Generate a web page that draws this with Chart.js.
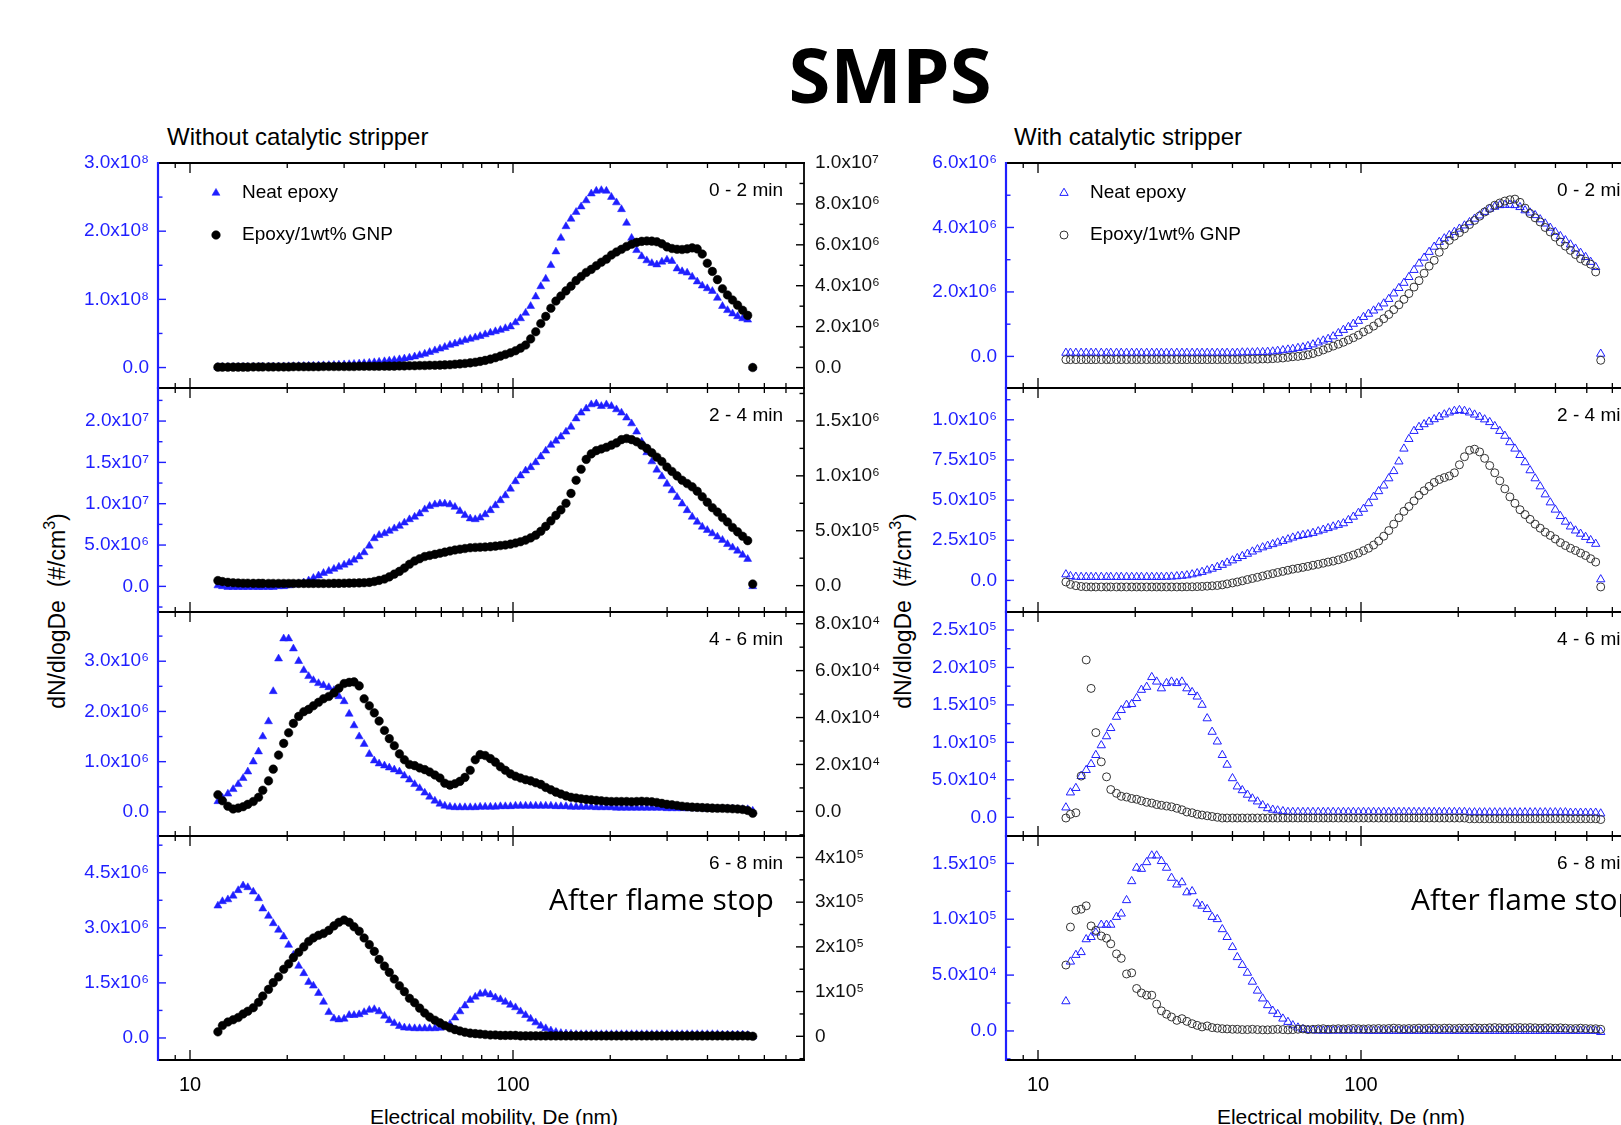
<!DOCTYPE html>
<html><head><meta charset="utf-8">
<script src="https://cdn.jsdelivr.net/npm/chart.js@4.4.1/dist/chart.umd.min.js"></script>
<style>
html,body{margin:0;padding:0;overflow:hidden;background:#fff;width:1621px;height:1125px;position:relative;}
.t{position:absolute;white-space:nowrap;font-family:"Liberation Sans",Arial,sans-serif;color:#000;}
.rot{transform:rotate(-90deg);text-align:center;}
sup{font-size:70%;line-height:0;position:relative;top:-0.1em;}
</style></head><body>
<div class="t" style="left:690px;width:400px;top:36px;text-align:center;font:bold 76px 'Open Sans',sans-serif;line-height:76px;">SMPS</div>
<div class="t" style="left:167px;top:124px;font-size:24px;line-height:26px;">Without catalytic stripper</div>
<div class="t" style="left:1014px;top:124px;font-size:24px;line-height:26px;">With catalytic stripper</div>
<div class="t rot" style="left:-103px;top:597px;width:320px;font-size:23px;line-height:28px;">dN/dlogDe&nbsp;&nbsp;(#/cm<sup>3</sup>)</div>
<div class="t rot" style="left:743px;top:597px;width:320px;font-size:23px;line-height:28px;">dN/dlogDe&nbsp;&nbsp;(#/cm<sup>3</sup>)</div>
<div class="t" style="left:294px;width:400px;top:1105px;text-align:center;font-size:21px;line-height:24px;">Electrical mobility, De (nm)</div>
<div class="t" style="left:1141px;width:400px;top:1105px;text-align:center;font-size:21px;line-height:24px;">Electrical mobility, De (nm)</div>
<script>
// ---------------- DATA ----------------
// SMPS channel mid-point diameters (nm)
const diameterNm = [12.2,12.6,13.1,13.6,14.1,14.6,15.1,15.7,16.3,16.8,
17.5,18.1,18.8,19.5,20.2,20.9,21.7,22.5,23.3,24.1,
25.0,25.9,26.9,27.9,28.9,30.0,31.1,32.2,33.4,34.6,
35.9,37.2,38.5,40.0,41.4,42.9,44.5,46.1,47.8,49.6,
51.4,53.3,55.2,57.3,59.4,61.5,63.8,66.1,68.5,71.0,
73.7,76.4,79.1,82.0,85.1,88.2,91.4,94.7,98.2,101.8,
105.5,109.4,113.4,117.6,121.9,126.3,131.0,135.8,140.7,145.9,
151.2,156.8,162.5,168.5,174.7,181.1,187.7,194.6,201.7,209.1,
216.7,224.7,232.9,241.4,250.3,259.5,269.0,278.8,289.0,299.6,
310.6,322.0,333.8,346.0,358.7,371.8,385.4,399.5,414.2,429.4,
445.1,461.4,478.3,495.8,514.0,532.8,552.3];

// Without catalytic stripper (values in the unit noted)
const woNeat_0_2 = [0.5,0.5,0.6,0.6,0.7,0.8,0.8,0.9,1.0,1.1,
1.2,1.3,1.4,1.5,1.7,1.8,2.0,2.2,2.4,2.6,
2.9,3.1,3.4,3.7,4.0,4.4,4.8,5.2,5.7,6.2,
6.8,7.5,8.2,9.0,9.9,10.8,11.9,13.0,14.4,16.0,
18,20,22.5,25,27.5,30,33,35,37.5,40,
42,44,46,48.5,51,53,55,57.5,60,66,
72,80,90,104,119,130,150,170,190,207,
218,228,236,245,255,259,260,259,250,242,
232,212,190,172,163,157,153,151,155,158,
156,145,141,139,133,126,120,116,112,102,
90,84,79,75,72,70,0]; // x1e6
const woGnp_0_2 = [0.02,0.02,0.02,0.02,0.02,0.02,0.02,0.03,0.03,0.03,
0.03,0.03,0.03,0.03,0.03,0.04,0.04,0.04,0.04,0.04,
0.04,0.05,0.05,0.05,0.05,0.05,0.05,0.05,0.06,0.06,
0.06,0.06,0.06,0.07,0.07,0.07,0.08,0.08,0.09,0.09,
0.1,0.1,0.11,0.11,0.12,0.13,0.14,0.16,0.18,0.2,
0.23,0.26,0.3,0.35,0.41,0.48,0.56,0.64,0.72,0.82,
0.95,1.1,1.4,1.75,2.15,2.5,2.9,3.25,3.5,3.75,
3.98,4.25,4.45,4.65,4.8,4.98,5.15,5.3,5.5,5.65,
5.78,5.92,6.03,6.12,6.17,6.19,6.18,6.15,6.05,5.9,
5.82,5.78,5.77,5.8,5.85,5.8,5.55,5.1,4.7,4.3,
3.85,3.55,3.3,3.05,2.8,2.55,0]; // x1e6
const woNeat_2_4 = [0.1,0,-0.1,-0.1,-0.1,-0.1,-0.1,-0.1,-0.1,-0.1,
-0.1,-0.1,0,0,0.1,0.2,0.3,0.45,0.7,1.0,
1.3,1.6,1.85,2.1,2.35,2.6,2.85,3.2,3.6,4.1,
4.9,5.8,6.2,6.4,6.7,7.0,7.3,7.7,8.1,8.4,
8.8,9.3,9.7,9.9,10.0,10.0,9.9,9.6,9.1,8.6,
8.2,8.1,8.3,8.7,9.2,9.8,10.4,11.0,11.8,12.7,
13.4,14.0,14.4,15.0,15.7,16.4,17.1,17.6,18.1,18.7,
19.3,20.3,21.0,21.5,22.0,22.1,21.8,22.0,21.8,21.4,
21.0,20.4,19.7,18.7,17.5,16.2,15.1,14.1,13.3,12.4,
11.6,10.8,10.0,9.2,8.4,7.8,7.2,6.8,6.4,6.0,
5.6,5.1,4.7,4.3,3.8,3.3,0]; // x1e6
const woGnp_2_4 = [0.46,0.37,0.3,0.26,0.24,0.22,0.22,0.21,0.21,0.21,
0.2,0.2,0.2,0.2,0.2,0.2,0.2,0.2,0.2,0.2,
0.2,0.2,0.2,0.21,0.21,0.22,0.23,0.24,0.25,0.27,
0.3,0.38,0.48,0.6,0.8,1.05,1.3,1.6,1.95,2.25,
2.45,2.65,2.75,2.85,2.95,3.05,3.15,3.25,3.32,3.38,
3.45,3.48,3.5,3.52,3.55,3.6,3.65,3.7,3.78,3.88,
4.0,4.15,4.35,4.6,4.95,5.4,5.9,6.4,6.9,7.5,
8.4,9.6,10.6,11.5,12.0,12.3,12.45,12.6,12.8,13.0,
13.3,13.4,13.3,13.1,12.8,12.5,12.1,11.7,11.3,10.8,
10.4,10.0,9.6,9.3,9.0,8.6,8.1,7.6,7.1,6.7,
6.2,5.8,5.3,4.9,4.5,4.1,0.15]; // x1e5
const woNeat_4_6 = [0.21,0.28,0.36,0.45,0.55,0.67,0.8,1.0,1.2,1.5,
1.8,2.4,3.05,3.45,3.45,3.25,3.0,2.82,2.7,2.62,
2.56,2.52,2.48,2.42,2.3,2.2,1.95,1.72,1.5,1.35,
1.15,1.02,0.96,0.92,0.88,0.84,0.8,0.72,0.64,0.55,
0.47,0.38,0.3,0.22,0.16,0.12,0.1,0.09,0.09,0.09,
0.09,0.09,0.1,0.1,0.1,0.1,0.11,0.11,0.11,0.12,
0.12,0.12,0.12,0.12,0.12,0.12,0.12,0.11,0.11,0.11,
0.1,0.1,0.1,0.1,0.1,0.09,0.09,0.09,0.09,0.08,
0.08,0.08,0.08,0.08,0.08,0.08,0.08,0.08,0.08,0.07,
0.07,0.07,0.07,0.07,0.07,0.07,0.07,0.06,0.06,0.06,
0.06,0.06,0.06,0.05,0.05,0.05,0.02]; // x1e6
const woGnp_4_6 = [0.71,0.45,0.22,0.1,0.14,0.2,0.3,0.42,0.6,0.9,
1.3,1.8,2.4,2.9,3.35,3.75,4.05,4.25,4.35,4.5,
4.65,4.8,4.9,5.05,5.25,5.45,5.5,5.52,5.35,4.8,
4.5,4.2,3.85,3.45,3.1,2.8,2.45,2.2,2.0,1.95,
1.85,1.78,1.68,1.55,1.42,1.2,1.12,1.18,1.28,1.45,
1.75,2.2,2.42,2.38,2.25,2.1,1.9,1.75,1.6,1.5,
1.42,1.35,1.3,1.22,1.15,1.02,0.92,0.82,0.74,0.66,
0.6,0.57,0.54,0.51,0.49,0.47,0.45,0.43,0.42,0.42,
0.42,0.42,0.41,0.42,0.43,0.42,0.41,0.38,0.34,0.3,
0.28,0.25,0.22,0.2,0.18,0.17,0.16,0.15,0.14,0.13,
0.13,0.12,0.11,0.1,0.08,0.04,-0.08]; // x1e4
const woNeat_6_8 = [3.6,3.72,3.77,3.87,4.02,4.15,4.1,3.98,3.8,3.52,
3.32,3.12,2.94,2.76,2.53,2.26,1.96,1.76,1.52,1.42,
1.22,0.98,0.7,0.53,0.5,0.52,0.62,0.62,0.64,0.7,
0.76,0.78,0.72,0.6,0.48,0.4,0.32,0.28,0.27,0.26,
0.26,0.26,0.26,0.26,0.27,0.3,0.38,0.55,0.72,0.88,
1.03,1.12,1.2,1.22,1.18,1.1,1.05,0.98,0.9,0.83,
0.72,0.62,0.52,0.42,0.33,0.26,0.2,0.16,0.13,0.12,
0.11,0.1,0.1,0.1,0.1,0.1,0.1,0.1,0.1,0.1,
0.1,0.1,0.1,0.1,0.1,0.1,0.1,0.1,0.1,0.1,
0.1,0.1,0.1,0.1,0.1,0.1,0.1,0.1,0.1,0.1,
0.09,0.09,0.09,0.09,0.09,0.08,0.04]; // x1e6
const woGnp_6_8 = [0.1,0.24,0.32,0.37,0.42,0.5,0.56,0.64,0.76,0.9,
1.05,1.2,1.33,1.5,1.62,1.76,1.88,2.0,2.12,2.2,
2.26,2.3,2.37,2.47,2.55,2.6,2.55,2.45,2.35,2.2,
2.05,1.9,1.72,1.57,1.43,1.28,1.13,1.0,0.85,0.75,
0.63,0.52,0.43,0.36,0.3,0.24,0.19,0.15,0.12,0.09,
0.07,0.06,0.05,0.04,0.03,0.03,0.02,0.02,0.02,0.02,
0.01,0.01,0.01,0.01,0.01,0.01,0.01,0.01,0.01,0.01,
0.01,0.01,0.01,0.01,0.01,0.01,0.01,0.01,0.01,0.01,
0.01,0.01,0.01,0.01,0.01,0.01,0.01,0.01,0.01,0.01,
0.01,0.01,0.01,0.01,0.01,0.01,0.01,0.01,0.01,0.01,
0.01,0.01,0.01,0.01,0.01,0.01,0]; // x1e5

// With catalytic stripper
const wNeat_0_2 = [1.1,1.1,1.1,1.1,1.1,1.1,1.1,1.1,1.1,1.1,
1.1,1.1,1.1,1.1,1.1,1.1,1.1,1.1,1.1,1.1,
1.1,1.1,1.1,1.1,1.1,1.1,1.1,1.1,1.1,1.1,
1.1,1.1,1.1,1.1,1.1,1.2,1.2,1.2,1.3,1.3,
1.4,1.5,1.7,1.9,2.1,2.3,2.6,2.8,3.2,3.7,
4.3,4.9,5.4,6.2,7.2,8.2,9.1,10.1,11.0,12.2,
13.2,14.2,15.2,16.4,17.8,19.5,21.2,22.8,24.6,26.8,
28.8,30.6,32.4,34.0,35.5,36.6,37.6,38.6,39.6,40.6,
41.6,42.7,43.7,44.8,45.8,46.4,46.9,47.0,47.0,46.9,
46.3,45.3,44.6,43.8,42.5,41.2,39.9,38.6,37.3,36.0,
34.7,33.4,32.1,30.8,29.3,27.7,0.8]; // x1e5
const wGnp_0_2 = [-1.0,-1.0,-1.0,-1.0,-1.0,-1.0,-1.0,-1.0,-1.0,-1.0,
-1.0,-1.0,-1.0,-1.0,-1.0,-1.0,-1.0,-1.0,-1.0,-1.0,
-1.0,-1.0,-1.0,-1.0,-1.0,-1.0,-1.0,-1.0,-1.0,-1.0,
-1.0,-1.0,-1.0,-1.0,-1.0,-1.0,-0.9,-0.9,-0.9,-0.8,
-0.8,-0.7,-0.6,-0.5,-0.3,-0.1,0.0,0.2,0.5,0.9,
1.4,2.0,2.6,3.2,3.8,4.4,5.1,5.8,6.6,7.6,
8.4,9.4,10.5,11.7,13.0,14.5,16.0,17.7,19.5,21.5,
23.5,25.8,28.0,29.8,32.3,34.5,36.0,37.3,38.4,39.6,
40.9,42.2,43.5,44.8,45.9,46.9,47.6,48.2,48.6,48.8,
47.8,46.0,44.3,43.0,41.7,40.0,38.6,37.0,35.5,34.2,
32.9,31.6,30.3,29.5,28.6,26.2,-1.2]; // x1e5
const wNeat_2_4 = [3.7,2.6,2.2,2.1,2.1,2.1,2.1,2.1,2.1,2.1,
2.1,2.1,2.1,2.1,2.1,2.1,2.1,2.1,2.1,2.1,
2.2,2.3,2.5,2.8,3.1,3.7,4.4,5.2,6.2,7.2,
8.3,9.6,11.0,12.4,13.8,15.1,16.5,17.9,19.3,20.5,
21.5,22.5,23.5,24.5,25.5,26.6,27.5,28.2,28.7,29.5,
30.5,31.5,32.5,33.5,34.5,35.5,37.5,39.6,42.0,44.5,
48,52,55.5,59,63.5,68,74,82,88,93,
95.5,97.2,98.8,100.3,101.8,103.3,104.5,105.5,106,105.5,
104.5,103.2,101.8,100.2,98.5,96,93,90,86,82,
78,73.5,68.5,63.5,58.5,53.5,48.5,44,40,36.5,
33.5,31,29,27,25,22.7,0.6]; // x1e4
const wGnp_2_4 = [-1.0,-2.5,-3.3,-3.8,-4.0,-4.1,-4.1,-4.1,-4.1,-4.1,
-4.1,-4.1,-4.1,-4.1,-4.1,-4.1,-4.1,-4.1,-4.1,-4.1,
-4.1,-4.1,-4.1,-4.1,-4.0,-4.0,-3.9,-3.8,-3.6,-3.4,
-3.2,-2.8,-2.2,-1.6,-1.0,-0.3,0.5,1.2,1.9,2.7,
3.5,4.2,4.9,5.6,6.3,7.0,7.5,8.1,8.7,9.4,
10.0,10.7,11.4,12.0,12.8,13.7,14.8,15.8,17.0,18.5,
20,22,24.5,27.5,31,35,39,43,46,49.5,
53,55.8,58.5,61,62.8,64,65,67,72,77,
81,81.7,80,76,71.5,67,62,57,52,48,
44,41,38,35,32.5,30,28,25.8,23.5,21.7,
20,18.6,17,15.5,13.5,11.4,-4.1]; // x1e4
const wNeat_4_6 = [1.3,3.3,3.9,5.5,6.3,7.1,8.3,9.6,10.8,11.9,
13.4,14.3,15.0,15.1,15.9,17.0,17.4,18.7,18.1,17.2,
17.9,18.1,17.9,18.1,17.2,16.7,16.1,15.0,13.2,11.4,
10.1,8.3,7.0,5.2,4.1,3.6,3.0,2.5,2.1,1.6,
1.2,1.0,0.9,0.8,0.7,0.7,0.7,0.7,0.7,0.7,
0.7,0.7,0.7,0.7,0.7,0.7,0.7,0.7,0.7,0.7,
0.7,0.7,0.7,0.7,0.7,0.7,0.7,0.7,0.7,0.7,
0.7,0.7,0.7,0.7,0.7,0.7,0.7,0.7,0.7,0.7,
0.65,0.65,0.65,0.65,0.65,0.65,0.65,0.65,0.65,0.65,
0.65,0.65,0.65,0.65,0.65,0.65,0.65,0.65,0.65,0.65,
0.6,0.6,0.6,0.6,0.6,0.6,0.5]; // x1e4
const wGnp_4_6 = [-0.1,0.4,0.6,5.5,21.0,17.2,11.3,7.4,5.4,3.7,
3.2,2.8,2.7,2.5,2.4,2.2,2.0,1.9,1.7,1.6,
1.5,1.4,1.2,1.0,0.7,0.6,0.4,0.3,0.2,0.1,
0.0,-0.1,-0.1,-0.1,-0.1,-0.1,-0.1,-0.1,-0.1,-0.1,
-0.1,-0.1,-0.1,-0.1,-0.1,-0.1,-0.1,-0.1,-0.1,-0.1,
-0.1,-0.1,-0.1,-0.1,-0.1,-0.1,-0.1,-0.1,-0.1,-0.1,
-0.1,-0.1,-0.1,-0.1,-0.1,-0.1,-0.1,-0.1,-0.1,-0.1,
-0.1,-0.1,-0.1,-0.1,-0.1,-0.1,-0.1,-0.1,-0.1,-0.1,
-0.2,-0.2,-0.2,-0.2,-0.2,-0.2,-0.2,-0.2,-0.2,-0.2,
-0.2,-0.2,-0.2,-0.2,-0.2,-0.2,-0.2,-0.2,-0.2,-0.2,
-0.2,-0.2,-0.2,-0.2,-0.2,-0.2,-0.3]; // x1e4
const wNeat_6_8 = [2.65,6.2,6.8,7.05,8.2,8.4,8.8,9.5,9.5,9.5,
10.2,10.5,11.7,13.4,14.6,14.5,15.1,15.7,15.7,15.2,
14.6,13.7,13.1,13.3,12.4,12.5,11.4,11.2,10.9,10.2,
10.0,9.1,8.4,7.5,6.6,5.9,5.2,4.4,3.6,2.9,
2.3,1.8,1.5,1.1,0.8,0.5,0.3,0.15,0.08,0.05,
0.02,0.02,0.02,0.02,0.02,0.02,0.02,0.02,0.02,0.02,
0,0,0,0,0,0,0,0,0,0,
0,0,0,0,0,0,0,0,0,0,
0,0,0,0,0,0,0,0,0,0,
0,0,0,0,0,0,0,0,0,0,
0,0,0,0,0,0,-0.1]; // x1e4
const wGnp_6_8 = [5.9,9.3,10.8,10.9,11.2,9.4,9.0,8.5,8.3,7.8,
6.9,6.5,5.1,5.2,3.8,3.4,3.2,3.2,2.4,1.8,
1.5,1.25,0.95,1.1,0.86,0.65,0.5,0.36,0.45,0.3,
0.25,0.2,0.18,0.15,0.15,0.12,0.12,0.15,0.12,0.1,
0.1,0.12,0.15,0.12,0.1,0.12,0.15,0.18,0.12,0.15,
0.18,0.2,0.15,0.18,0.2,0.18,0.2,0.22,0.2,0.18,
0.2,0.2,0.22,0.2,0.22,0.25,0.22,0.2,0.22,0.22,
0.25,0.22,0.25,0.25,0.22,0.25,0.25,0.22,0.25,0.25,
0.25,0.28,0.25,0.25,0.28,0.3,0.28,0.25,0.28,0.3,
0.3,0.28,0.3,0.28,0.25,0.28,0.28,0.25,0.28,0.25,
0.22,0.22,0.25,0.22,0.2,0.2,0.15]; // x1e4

// Tick values (in each axis' unit)
const xMajorTicks = [10, 100];
const xMinorTicks = [9, 20, 30, 40, 50, 60, 70, 80, 90, 200, 300, 400, 500, 600, 700];
const woLeftTicks = [[0,100,200,300],[0,5,10,15,20],[0,1,2,3],[0,1.5,3,4.5]];
const woRightTicks = [[0,2,4,6,8,10],[0,5,10,15],[0,2,4,6,8],[0,1,2,3,4]];
const wLeftTicks = [[0,20,40,60],[0,25,50,75,100],[0,5,10,15,20,25],[0,5,10,15]];
const timeLabels = ['0 - 2 min','2 - 4 min','4 - 6 min','6 - 8 min'];
const seriesNames = ['Neat epoxy','Epoxy/1wt% GNP'];

// ---------------- DRAWING ----------------
const BLUE = '#1f1fff';
const FONT = '"Liberation Sans", Arial, sans-serif';
const TOPS = [163, 388, 612, 836], BOTS = [388, 612, 836, 1060];
const PAD = 10, XH = 62;
const SUP = {'0':'⁰','1':'¹','2':'²','3':'³','4':'⁴','5':'⁵','6':'⁶','7':'⁷','8':'⁸','9':'⁹','-':'⁻'};
function sci(v, dec) {
  if (Math.abs(v) < 1e-9) return dec ? '0.0' : '0';
  const e = Math.floor(Math.log10(Math.abs(v)) + 1e-9);
  const m = v / Math.pow(10, e);
  return m.toFixed(dec) + 'x10' + String(e).split('').map(c => SUP[c]).join('');
}

const decor = {
  id: 'decor',
  afterDraw(chart) {
    const o = chart.options.plugins.decor;
    const {ctx, chartArea: a, scales} = chart;
    const X = scales.x, L = scales.yL, R = scales.yR;
    ctx.save();
    const seg = (x1, y1, x2, y2, c, w) => { ctx.beginPath(); ctx.strokeStyle = c; ctx.lineWidth = w; ctx.moveTo(x1, y1); ctx.lineTo(x2, y2); ctx.stroke(); };
    xMajorTicks.forEach(v => { const p = X.getPixelForValue(v); seg(p, a.bottom, p, a.bottom - 10, '#000', 1.3); seg(p, a.top, p, a.top + 10, '#000', 1.3); });
    xMinorTicks.forEach(v => { const p = X.getPixelForValue(v); seg(p, a.bottom, p, a.bottom - 5, '#000', 1.3); seg(p, a.top, p, a.top + 5, '#000', 1.3); });
    const yt = (S, ticks, x0, dir, col) => {
      ticks.forEach(v => { const p = S.getPixelForValue(v); seg(x0, p, x0 + dir * 8, p, col, 1.4); });
      const st = ticks[1] - ticks[0];
      for (let v = ticks[0] - st / 2; v <= S.max + 1e-9; v += st) {
        if (v < S.min) continue;
        const p = S.getPixelForValue(v); seg(x0, p, x0 + dir * 4.5, p, col, 1.4);
      }
    };
    yt(L, o.lTicks, a.left, 1, BLUE);
    if (R) yt(R, o.rTicks, a.right, -1, '#000');
    seg(a.left - 1, a.top, a.right + 1, a.top, '#000', 1.8);
    seg(a.left - 1, a.bottom, a.right + 1, a.bottom, '#000', 1.8);
    seg(a.right, a.top, a.right, a.bottom, '#000', 1.8);
    seg(a.left, a.top - 1, a.left, a.bottom + 1, BLUE, 2.2);
    ctx.fillStyle = '#000';
    ctx.font = '19px ' + FONT;
    ctx.textAlign = 'right'; ctx.textBaseline = 'middle';
    ctx.fillText(o.label, a.left + 625, a.top + 28);
    if (o.after) {
      ctx.font = '30px "Open Sans", sans-serif';
      ctx.textAlign = 'left';
      ctx.fillText('After flame stop', a.left + o.afterX, a.top + 65);
    }
    if (o.legend) {
      const ds = chart.data.datasets;
      [0, 1].forEach(i => {
        const d = ds[i], y = a.top + 30 + i * 42;
        ctx.fillStyle = d.backgroundColor; ctx.strokeStyle = d.borderColor;
        ctx.lineWidth = d.borderWidth;
        Chart.helpers.drawPoint(ctx, {pointStyle: d.pointStyle, radius: d.pointRadius, borderWidth: d.borderWidth, rotation: 0}, a.left + 58, y);
        ctx.fillStyle = '#000'; ctx.font = '19px ' + FONT; ctx.textAlign = 'left'; ctx.textBaseline = 'middle';
        ctx.fillText(d.label, a.left + 84, y);
      });
    }
    ctx.restore();
  }
};

function build(colLeft, idx, p) {
  const top = TOPS[idx], bot = BOTS[idx], last = idx === 3;
  const h = (bot - top) + PAD + (last ? XH : PAD);
  const w = 158 + 646 + (p.right ? 100 : 20);
  const cv = document.createElement('canvas');
  cv.width = w; cv.height = h;
  cv.style.cssText = 'position:absolute;left:' + colLeft + 'px;top:' + (top - PAD) + 'px;width:' + w + 'px;height:' + h + 'px';
  document.body.appendChild(cv);
  const pts = arr => arr.map((v, i) => ({x: diameterNm[i], y: v}));
  const datasets = [
    {label: seriesNames[0], data: pts(p.blue), yAxisID: 'yL', pointStyle: 'triangle',
     pointRadius: p.hollow ? 4.8 : 4.6, backgroundColor: p.hollow ? 'rgba(0,0,0,0)' : BLUE, borderColor: BLUE,
     borderWidth: p.hollow ? 1 : 0.5, order: 2},
    {label: seriesNames[1], data: pts(p.black), yAxisID: p.right ? 'yR' : 'yL', pointStyle: 'circle',
     pointRadius: p.hollow ? 4 : 4.3, backgroundColor: p.hollow ? 'rgba(0,0,0,0)' : '#000', borderColor: p.hollow ? '#333' : '#000',
     borderWidth: p.hollow ? 1 : 0.5, order: 1}
  ];
  const scales = {
    x: {type: 'logarithmic', min: 7.96, max: 796, display: last,
        grid: {display: false, drawTicks: false}, border: {display: false},
        afterBuildTicks: s => { s.ticks = xMajorTicks.map(v => ({value: v, major: true})); },
        afterFit: s => { s.height = last ? XH : 0; s.paddingLeft = 0; s.paddingRight = 0; },
        ticks: {autoSkip: false, maxRotation: 0, padding: 13, color: '#000', font: {size: 20, family: FONT}, callback: v => String(v)}},
    yL: {position: 'left', min: p.lMin, max: p.lMax,
         grid: {display: false, drawTicks: false}, border: {display: false},
         afterBuildTicks: s => { s.ticks = p.lTicks.map(v => ({value: v})); },
         afterFit: s => { s.width = 158; s.paddingTop = 0; s.paddingBottom = 0; },
         ticks: {autoSkip: false, padding: 9, color: BLUE, font: {size: 19, family: FONT}, callback: v => sci(v * p.lUnit, 1)}}
  };
  if (p.right) {
    scales.yR = {position: 'right', min: p.rMin, max: p.rMax,
      grid: {display: false, drawTicks: false}, border: {display: false},
      afterBuildTicks: s => { s.ticks = p.rTicks.map(v => ({value: v})); },
      afterFit: s => { s.width = 100; s.paddingTop = 0; s.paddingBottom = 0; },
      ticks: {autoSkip: false, padding: 11, color: '#111', font: {size: 19, family: FONT}, callback: v => sci(v * p.rUnit, p.rDec)}};
  }
  new Chart(cv, {
    type: 'scatter',
    data: {datasets},
    options: {
      responsive: false, animation: false, devicePixelRatio: 1, events: [],
      layout: {padding: {top: PAD, bottom: last ? 0 : PAD, left: 0, right: p.right ? 0 : 20}},
      plugins: {legend: {display: false}, tooltip: {enabled: false},
        decor: {label: timeLabels[idx], lTicks: p.lTicks, rTicks: p.rTicks, legend: idx === 0, after: last, afterX: p.afterX}},
      scales
    },
    plugins: [decor]
  });
}

// Without catalytic stripper (left column, two y axes)
build(0, 0, {blue: woNeat_0_2, black: woGnp_0_2, lMin: -30, lMax: 300, lTicks: woLeftTicks[0], lUnit: 1e6,
  right: true, rMin: -1, rMax: 10, rTicks: woRightTicks[0], rUnit: 1e6, rDec: 1});
build(0, 1, {blue: woNeat_2_4, black: woGnp_2_4, lMin: -3.1, lMax: 24, lTicks: woLeftTicks[1], lUnit: 1e6,
  right: true, rMin: -2.4, rMax: 18, rTicks: woRightTicks[1], rUnit: 1e5, rDec: 1});
build(0, 2, {blue: woNeat_4_6, black: woGnp_4_6, lMin: -0.48, lMax: 3.98, lTicks: woLeftTicks[2], lUnit: 1e6,
  right: true, rMin: -1.05, rMax: 8.5, rTicks: woRightTicks[2], rUnit: 1e4, rDec: 1});
build(0, 3, {blue: woNeat_6_8, black: woGnp_6_8, lMin: -0.6, lMax: 5.5, lTicks: woLeftTicks[3], lUnit: 1e6,
  right: true, rMin: -0.53, rMax: 4.48, rTicks: woRightTicks[3], rUnit: 1e5, rDec: 0, afterX: 391});
// With catalytic stripper (right column, hollow markers)
build(848, 0, {blue: wNeat_0_2, black: wGnp_0_2, lMin: -9.8, lMax: 60, lTicks: wLeftTicks[0], lUnit: 1e5, hollow: true});
build(848, 1, {blue: wNeat_2_4, black: wGnp_2_4, lMin: -19.7, lMax: 119.8, lTicks: wLeftTicks[1], lUnit: 1e4, hollow: true});
build(848, 2, {blue: wNeat_4_6, black: wGnp_4_6, lMin: -2.5, lMax: 27.4, lTicks: wLeftTicks[2], lUnit: 1e4, hollow: true});
build(848, 3, {blue: wNeat_6_8, black: wGnp_6_8, lMin: -2.6, lMax: 17.45, lTicks: wLeftTicks[3], lUnit: 1e4, hollow: true, afterX: 405});
</script>
</body></html>
